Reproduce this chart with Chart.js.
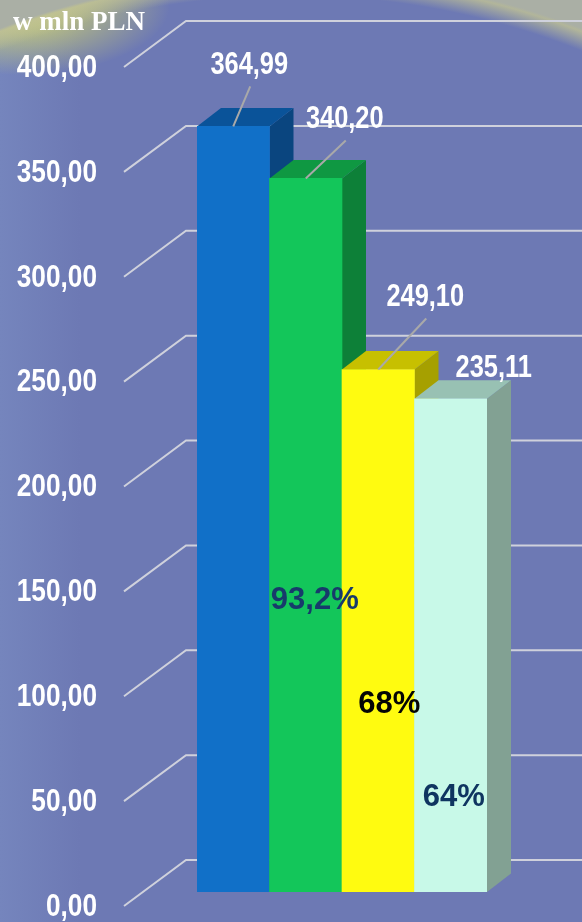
<!DOCTYPE html>
<html lang="pl">
<head>
    <meta charset="UTF-8">
    <title>w mln PLN</title>
    <style>
        html, body {
            margin: 0;
            padding: 0;
        }
        body {
            width: 582px;
            height: 922px;
            overflow: hidden;
            background-color: #6d79b4;
            background-image:
                radial-gradient(ellipse 700px 590px at 291px 565px, rgba(109,121,180,0) 96.5%, rgba(190,192,150,0.85) 99.5%, rgba(170,175,165,1) 100%),
                radial-gradient(ellipse 150px 70px at 20px 5px, rgba(240,240,90,0.85), rgba(240,240,90,0) 100%),
                linear-gradient(90deg, #7585bd 0px, #6d79b4 80px, #6d79b4 100%);
        }
        .chart-box {
            position: relative;
            width: 582px;
            height: 922px;
        }
    </style>
    <script src="https://cdn.jsdelivr.net/npm/chart.js"></script>
</head>
<body>
    <div class="chart-box">
        <canvas id="wykres"></canvas>
    </div>

    <script>
        // dane
        const kategorie = ['1', '2', '3', '4'];
        const wartosci = [364.99, 340.20, 249.10, 235.11];
        const procenty = ['', '93,2%', '68%', '64%'];
        const osY = [0, 50, 100, 150, 200, 250, 300, 350, 400];
        const tytul = 'w mln PLN';

        const kolorPrzod = ['#1170c8', '#13c65a', '#fffb10', '#c8f9e8'];
        const kolorGora = ['#0a5399', '#0f9842', '#c7c000', '#98c1b3'];
        const kolorBok = ['#0a457f', '#0d8038', '#a6a000', '#82a193'];

        const fmt = (v) => v.toFixed(2).replace('.', ',');

        // brak Arial Narrow - ściskamy Liberation Sans w poziomie
        function napisWaski(ctx, txt, x, y, align, size) {
            ctx.save();
            ctx.translate(x, y);
            ctx.scale(0.82, 1);
            ctx.font = 'bold ' + size + 'px "Liberation Sans", Arial, sans-serif';
            ctx.textAlign = align;
            ctx.textBaseline = 'middle';
            ctx.fillText(txt, 0, 0);
            ctx.restore();
        }

        // efekt 3D + siatka + opisy
        const wykres3d = {
            id: 'wykres3d',
            beforeDatasetsDraw(chart) {
                const ctx = chart.ctx;
                const y = chart.scales.y;
                const dx = 24, dy = -18.5;

                ctx.save();
                // siatka: skos od osi do tylnej ściany
                ctx.strokeStyle = '#cfd1dc';
                ctx.lineWidth = 2;
                osY.forEach((v) => {
                    const py = y.getPixelForValue(v);
                    ctx.beginPath();
                    ctx.moveTo(124, py + 14);
                    ctx.lineTo(186, py - 32);
                    ctx.lineTo(chart.width, py - 32);
                    ctx.stroke();
                });

                // opisy osi
                ctx.fillStyle = '#ffffff';
                osY.forEach((v) => {
                    napisWaski(ctx, fmt(v), 97, y.getPixelForValue(v) + 15, 'right', 32);
                });

                // tytuł
                ctx.font = 'bold 27px "Liberation Serif", "Times New Roman", serif';
                ctx.textAlign = 'left';
                ctx.textBaseline = 'alphabetic';
                ctx.fillText(tytul, 13, 30);

                // boki i wierzch słupków
                const meta = chart.getDatasetMeta(0);
                meta.data.forEach((bar, i) => {
                    const l = bar.x - bar.width / 2;
                    const r = bar.x + bar.width / 2;
                    const t = bar.y;
                    const b = bar.base;

                    ctx.fillStyle = kolorBok[i];
                    ctx.beginPath();
                    ctx.moveTo(r, t);
                    ctx.lineTo(r + dx, t + dy);
                    ctx.lineTo(r + dx, b + dy);
                    ctx.lineTo(r, b);
                    ctx.closePath();
                    ctx.fill();

                    ctx.fillStyle = kolorGora[i];
                    ctx.beginPath();
                    ctx.moveTo(l, t);
                    ctx.lineTo(l + dx, t + dy);
                    ctx.lineTo(r + dx, t + dy);
                    ctx.lineTo(r, t);
                    ctx.closePath();
                    ctx.fill();
                });
                ctx.restore();
            },
            afterDatasetsDraw(chart) {
                const ctx = chart.ctx;
                const meta = chart.getDatasetMeta(0);
                const przesun = [[16, -61], [39, -59], [47, -72], [43, -30]];
                const linia = [true, true, true, false];
                const procPoz = [[0, 0], [9, -292], [11, -188], [3, -95]];
                const procKolor = ['#000', '#173a6b', '#050505', '#0f3560'];

                ctx.save();
                meta.data.forEach((bar, i) => {
                    const lx = bar.x + przesun[i][0];
                    const ly = bar.y + przesun[i][1];
                    if (linia[i]) {
                        ctx.strokeStyle = '#a9a9a9';
                        ctx.lineWidth = 2;
                        ctx.beginPath();
                        ctx.moveTo(lx + 1, ly + 21);
                        ctx.lineTo(bar.x, bar.y);
                        ctx.stroke();
                    }
                    ctx.fillStyle = '#ffffff';
                    napisWaski(ctx, fmt(wartosci[i]), lx, ly, 'center', 31);

                    if (procenty[i]) {
                        ctx.fillStyle = procKolor[i];
                        ctx.font = 'bold 31px "Liberation Sans", Arial, sans-serif';
                        ctx.textAlign = 'center';
                        ctx.textBaseline = 'middle';
                        ctx.fillText(procenty[i], bar.x + procPoz[i][0], bar.base + procPoz[i][1]);
                    }
                });
                ctx.restore();
            }
        };

        new Chart(document.getElementById('wykres'), {
            type: 'bar',
            data: {
                labels: kategorie,
                datasets: [{
                    data: wartosci,
                    backgroundColor: kolorPrzod,
                    borderWidth: 0,
                    barPercentage: 1,
                    categoryPercentage: 1
                }]
            },
            options: {
                responsive: true,
                maintainAspectRatio: false,
                animation: false,
                layout: {
                    padding: { left: 197, right: 95, top: 53, bottom: 30 }
                },
                plugins: {
                    legend: { display: false },
                    tooltip: { enabled: false }
                },
                scales: {
                    x: { display: false },
                    y: { display: false, min: 0, max: 400 }
                }
            },
            plugins: [wykres3d]
        });
    </script>
</body>
</html>
